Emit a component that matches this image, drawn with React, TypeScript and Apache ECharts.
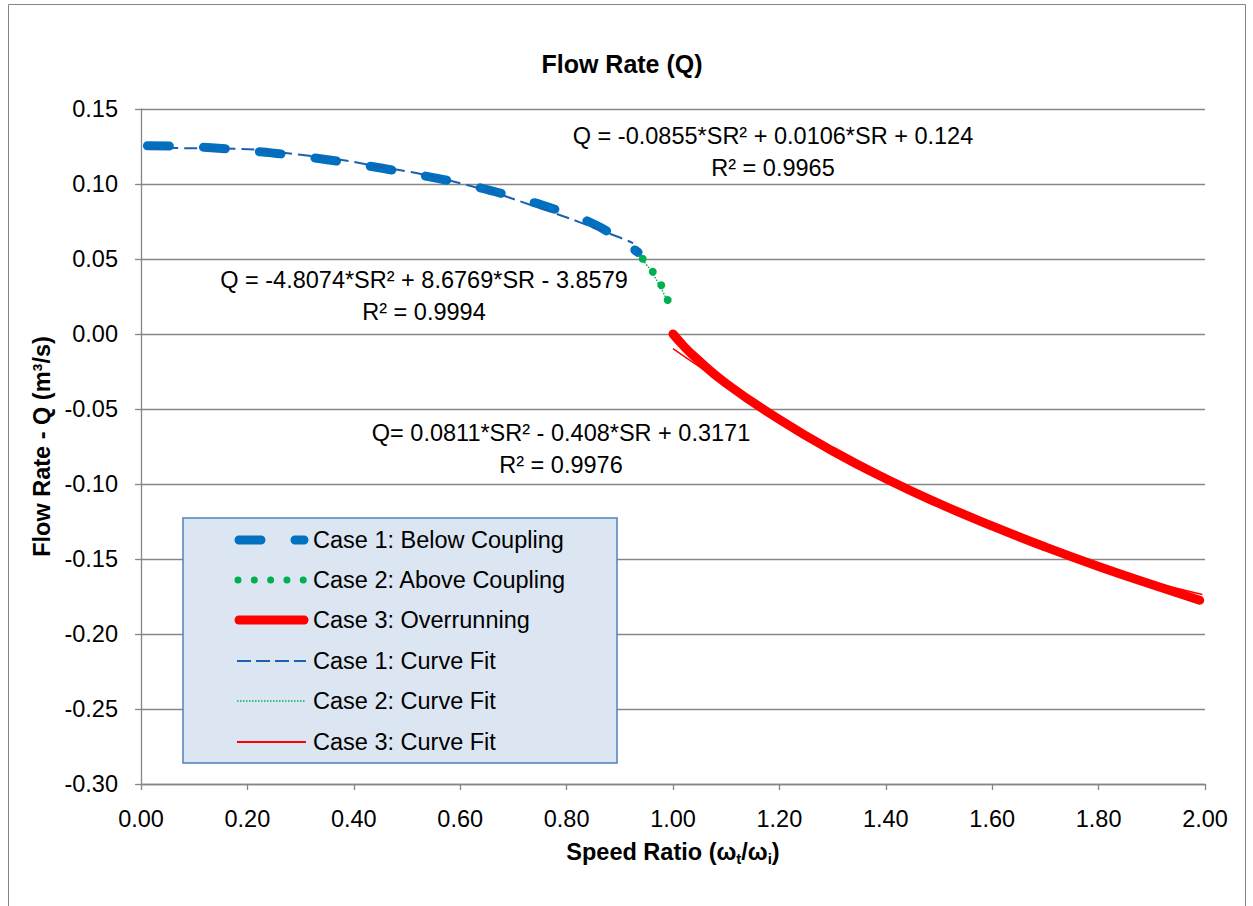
import React, { useEffect, useRef } from "react";
import * as echarts from "echarts";

const FONT = '"Liberation Sans", Arial, sans-serif';

// Case 1: Below Coupling (measured data)
const caseOneSR = [0.012, 0.1, 0.2, 0.3, 0.4, 0.5, 0.6, 0.7, 0.8, 0.85, 0.885, 0.934];
const caseOneQ = [0.1255, 0.1248, 0.1222, 0.1185, 0.1135, 0.1075, 0.1005, 0.0915, 0.0805, 0.0735, 0.0665, 0.0545];

// Case 2: Above Coupling (measured data)
const caseTwoSR = [0.943, 0.962, 0.978, 0.99];
const caseTwoQ = [0.0502, 0.0415, 0.0325, 0.0227];

// Case 3: Overrunning (measured data)
const caseThreeSR = [1.0, 1.02, 1.04, 1.1, 1.2, 1.3, 1.4, 1.5, 1.6, 1.7, 1.8, 1.9, 1.99];
const caseThreeQ = [0.0, -0.008, -0.015, -0.033, -0.057, -0.078, -0.0965, -0.113, -0.128, -0.142, -0.155, -0.167, -0.1775];

// Curve fits (as drawn)
const fitOneSR = [0.01, 0.15, 0.3, 0.45, 0.6, 0.75, 0.9, 0.925];
const fitOneQ = [0.124, 0.1237, 0.1195, 0.1115, 0.1005, 0.0839, 0.0643, 0.0606];
const fitTwoSR = [0.935, 0.96, 0.99];
const fitTwoQ = [0.0523, 0.0414, 0.0215];
const fitThreeSR = [1.0, 1.05, 1.1, 1.2, 1.4, 1.6, 1.8, 1.995];
const fitThreeQ = [-0.0098, -0.022, -0.0336, -0.0557, -0.0951, -0.128, -0.1545, -0.1737];

const legendLabels = [
  "Case 1: Below Coupling",
  "Case 2: Above Coupling",
  "Case 3: Overrunning",
  "Case 1: Curve Fit",
  "Case 2: Curve Fit",
  "Case 3: Curve Fit",
];

const annotations = [
  { lines: ["Q = -0.0855*SR² + 0.0106*SR + 0.124", "R² = 0.9965"], x: 773, y: 136 },
  { lines: ["Q = -4.8074*SR² + 8.6769*SR - 3.8579", "R² = 0.9994"], x: 424, y: 280 },
  { lines: ["Q= 0.0811*SR² - 0.408*SR + 0.3171", "R² = 0.9976"], x: 561, y: 433 },
];

const BLUE = "#0070C0";
const BLUE_FIT = "#1A62B0";
const GREEN = "#00B050";
const RED = "#FF0000";
const GRID = "#868686";

const pairs = (xs: number[], ys: number[]) => xs.map((x, i) => [x, ys[i]]);

export default function App() {
  const ref = useRef<HTMLDivElement>(null);

  useEffect(() => {
    if (!ref.current) return;
    const chart = echarts.init(ref.current, undefined, { renderer: "svg" });

    const legendX = 183;
    const legendY = 518;
    const rowY = [540, 580, 620, 661, 701, 742];
    const legendSamples: any[] = [
      { type: "line", shape: { x1: 239, y1: rowY[0], x2: 304, y2: rowY[0] }, style: { stroke: BLUE, lineWidth: 9, lineCap: "round", lineDash: [22, 34] } },
      { type: "line", shape: { x1: 238, y1: rowY[1], x2: 304, y2: rowY[1] }, style: { stroke: GREEN, lineWidth: 7, lineCap: "round", lineDash: [0.01, 16.3] } },
      { type: "line", shape: { x1: 239, y1: rowY[2], x2: 304, y2: rowY[2] }, style: { stroke: RED, lineWidth: 9, lineCap: "round" } },
      { type: "line", shape: { x1: 237, y1: rowY[3], x2: 306, y2: rowY[3] }, style: { stroke: BLUE_FIT, lineWidth: 2, lineDash: [14, 5] } },
      { type: "line", shape: { x1: 237, y1: rowY[4], x2: 306, y2: rowY[4] }, style: { stroke: GREEN, lineWidth: 1.5, lineDash: [1.5, 1.5] } },
      { type: "line", shape: { x1: 237, y1: rowY[5], x2: 306, y2: rowY[5] }, style: { stroke: RED, lineWidth: 2 } },
    ];
    const legendTexts = legendLabels.map((t, i) => ({
      type: "text",
      x: 313,
      y: rowY[i],
      style: { text: t, fontSize: 23.5, fontFamily: FONT, fill: "#000", verticalAlign: "middle", align: "left" },
    }));

    const annTexts: any[] = [];
    annotations.forEach((a) => {
      a.lines.forEach((l, i) => {
        annTexts.push({
          type: "text",
          x: a.x,
          y: a.y + i * 32,
          style: { text: l, fontSize: 23.5, fontFamily: FONT, fill: "#000", align: "center", verticalAlign: "middle" },
        });
      });
    });

    const option: any = {
      animation: false,
      backgroundColor: "#fff",
      title: {
        text: "Flow Rate (Q)",
        left: 617,
        textAlign: "center",
        top: 46,
        textStyle: { fontSize: 25, fontWeight: "bold", fontFamily: FONT, color: "#000" },
      },
      grid: { left: 141, right: 48, top: 109, bottom: 122, containLabel: false },
      xAxis: {
        type: "value",
        min: 0,
        max: 2,
        interval: 0.2,
        name: "{b|Speed Ratio (ω}{s|t}{b|/ω}{s|i}{b|)}",
        nameLocation: "middle",
        nameGap: 54,
        nameTextStyle: {
          rich: {
            b: { fontSize: 23.5, fontWeight: "bold", fontFamily: FONT, color: "#000", lineHeight: 28 },
            s: { fontSize: 15, fontWeight: "bold", fontFamily: FONT, color: "#000", lineHeight: 12, verticalAlign: "bottom" },
          },
        },
        axisLine: { onZero: false, lineStyle: { color: GRID, width: 1.3 } },
        axisTick: { show: true, length: 6, lineStyle: { color: GRID, width: 1.3 } },
        axisLabel: {
          formatter: (v: number) => v.toFixed(2),
          fontSize: 23.5,
          fontFamily: FONT,
          color: "#000",
          margin: 23,
        },
        splitLine: { show: false },
      },
      yAxis: {
        type: "value",
        min: -0.3,
        max: 0.15,
        interval: 0.05,
        name: "Flow Rate - Q (m³/s)",
        nameLocation: "middle",
        nameGap: 85,
        nameTextStyle: { fontSize: 23.5, fontWeight: "bold", fontFamily: FONT, color: "#000" },
        axisLine: { show: true, lineStyle: { color: GRID, width: 1.3 } },
        axisTick: { show: true, length: 6, lineStyle: { color: GRID, width: 1.3 } },
        axisLabel: {
          formatter: (v: number) => (Math.abs(v) < 1e-9 ? "0.00" : v.toFixed(2)),
          fontSize: 23.5,
          fontFamily: FONT,
          color: "#000",
          margin: 23,
        },
        splitLine: { show: true, lineStyle: { color: GRID, width: 1.3 } },
      },
      series: [
        {
          name: legendLabels[0],
          type: "line",
          data: pairs(caseOneSR, caseOneQ),
          smooth: true,
          showSymbol: false,
          lineStyle: { color: BLUE, width: 9, cap: "round", type: [22, 34] },
          z: 2,
        },
        {
          name: legendLabels[0] + " end",
          type: "scatter",
          data: [[caseOneSR[caseOneSR.length - 1], caseOneQ[caseOneQ.length - 1]]],
          symbol: "circle",
          symbolSize: 9,
          itemStyle: { color: BLUE },
          z: 2,
        },
        {
          name: legendLabels[1],
          type: "line",
          data: pairs(caseTwoSR, caseTwoQ),
          smooth: true,
          showSymbol: true,
          symbol: "circle",
          symbolSize: 8,
          itemStyle: { color: GREEN, borderWidth: 0 },
          lineStyle: { color: GREEN, width: 0, opacity: 0 },
          z: 2,
        },
        {
          name: legendLabels[2],
          type: "line",
          data: pairs(caseThreeSR, caseThreeQ),
          smooth: true,
          showSymbol: false,
          lineStyle: { color: RED, width: 9, cap: "round", join: "round" },
          z: 2,
        },
        {
          name: legendLabels[3],
          type: "line",
          data: pairs(fitOneSR, fitOneQ),
          smooth: true,
          showSymbol: false,
          lineStyle: { color: BLUE_FIT, width: 2, type: [13, 6] },
          z: 3,
        },
        {
          name: legendLabels[4],
          type: "line",
          data: pairs(fitTwoSR, fitTwoQ),
          smooth: true,
          showSymbol: false,
          lineStyle: { color: GREEN, width: 1.5, type: [1.5, 1.5] },
          z: 3,
        },
        {
          name: legendLabels[5],
          type: "line",
          data: pairs(fitThreeSR, fitThreeQ),
          smooth: true,
          showSymbol: false,
          lineStyle: { color: RED, width: 1.5 },
          z: 3,
        },
      ],
      graphic: [
        {
          type: "rect",
          shape: { x: 8.5, y: 4.5, width: 1237, height: 920 },
          style: { fill: "none", stroke: GRID, lineWidth: 1 },
          silent: true,
          z: -10,
        },
        ...annTexts,
        {
          type: "rect",
          shape: { x: legendX, y: legendY, width: 434, height: 245 },
          style: { fill: "#DCE6F2", stroke: "#4F81BD", lineWidth: 1.5 },
          z: 10,
        },
        ...legendSamples.map((s) => ({ ...s, z: 11 })),
        ...legendTexts.map((t) => ({ ...t, z: 11 })),
      ],
    };

    chart.setOption(option);
    return () => chart.dispose();
  }, []);

  return (
    <div
      ref={ref}
      style={{ position: "absolute", left: 0, top: 0, width: 1253, height: 906 }}
    />
  );
}
